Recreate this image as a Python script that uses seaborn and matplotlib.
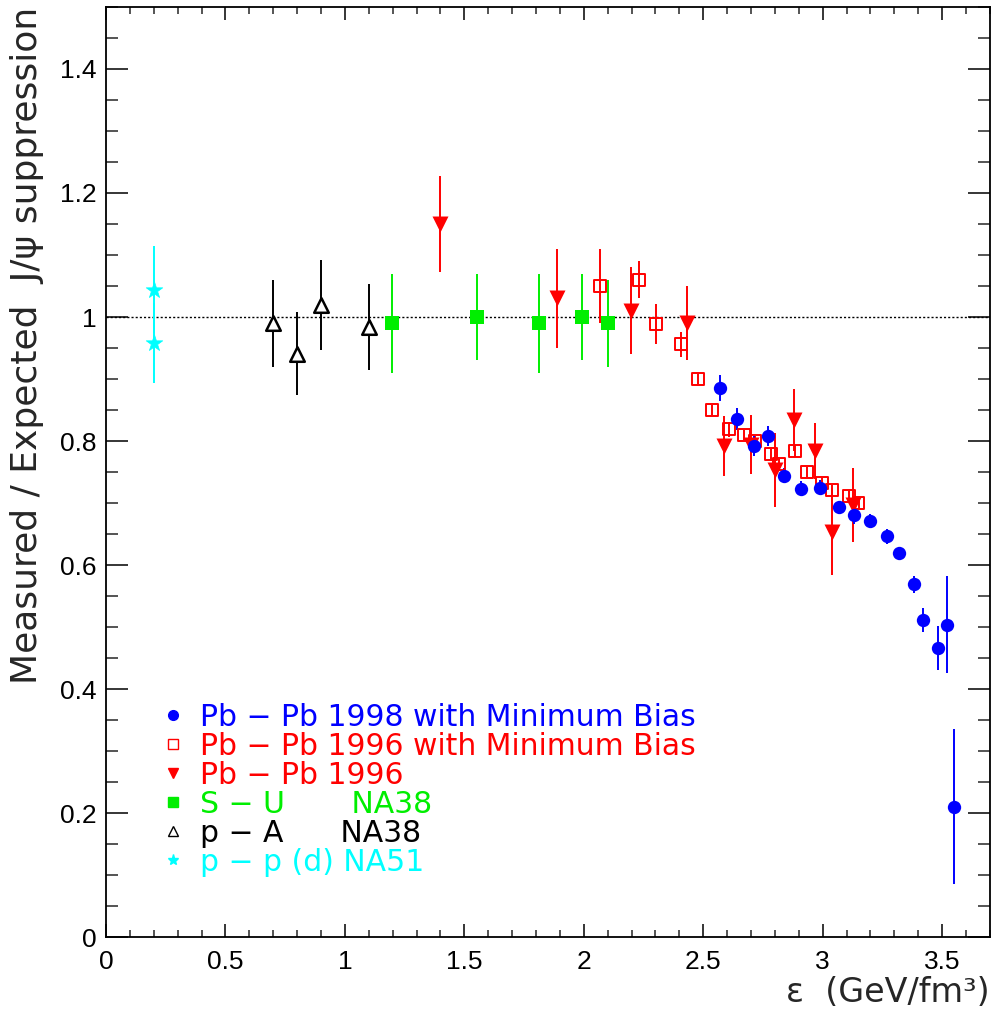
import matplotlib
matplotlib.use("Agg")
import matplotlib.pyplot as plt
import seaborn as sns
from matplotlib.lines import Line2D
from matplotlib.ticker import MultipleLocator, FormatStrFormatter

# ---------------- data ----------------
# Pb-Pb 1998 with Minimum Bias
pb98_x = [2.569, 2.641, 2.711, 2.771, 2.839, 2.910, 2.990, 3.069, 3.129, 3.198,
          3.271, 3.320, 3.382, 3.421, 3.481, 3.520, 3.551]
pb98_y = [0.885, 0.835, 0.792, 0.808, 0.744, 0.723, 0.725, 0.694, 0.681, 0.671,
          0.646, 0.619, 0.569, 0.511, 0.466, 0.504, 0.210]
pb98_e = [0.021, 0.018, 0.016, 0.016, 0.012, 0.012, 0.012, 0.010, 0.015, 0.012,
          0.012, 0.010, 0.014, 0.019, 0.036, 0.078, 0.125]

# Pb-Pb 1996 with Minimum Bias
pb96mb_x = [2.068, 2.231, 2.302, 2.406, 2.480, 2.538, 2.609, 2.672, 2.718, 2.783,
            2.818, 2.886, 2.934, 2.996, 3.038, 3.111, 3.150]
pb96mb_y = [1.050, 1.060, 0.989, 0.956, 0.900, 0.850, 0.819, 0.810, 0.800, 0.779,
            0.763, 0.784, 0.750, 0.732, 0.721, 0.711, 0.700]
pb96mb_e = [0.060, 0.030, 0.032, 0.020, 0.008, 0.008, 0.012, 0.008, 0.008, 0.008,
            0.008, 0.010, 0.008, 0.008, 0.008, 0.008, 0.008]

# Pb-Pb 1996
pb96_x = [1.399, 1.888, 2.197, 2.431, 2.589, 2.700, 2.799, 2.878, 2.969, 3.041, 3.126]
pb96_y = [1.150, 1.030, 1.010, 0.990, 0.792, 0.794, 0.753, 0.834, 0.784, 0.654, 0.697]
pb96_e = [0.078, 0.080, 0.070, 0.060, 0.048, 0.048, 0.060, 0.050, 0.045, 0.070, 0.060]

# S-U NA38
su_x = [1.199, 1.554, 1.813, 1.992, 2.101]
su_y = [0.990, 1.000, 0.990, 1.000, 0.990]
su_e = [0.080, 0.070, 0.080, 0.070, 0.070]

# p-A NA38
pa_x = [0.698, 0.798, 0.898, 1.103]
pa_y = [0.990, 0.941, 1.019, 0.984]
pa_e = [0.070, 0.067, 0.073, 0.069]

# p-p (d) NA51
pp_x = [0.200, 0.200]
pp_y = [1.044, 0.958]
pp_e = [0.070, 0.065]

x_ticks = [0, 0.5, 1, 1.5, 2, 2.5, 3, 3.5]
y_ticks = [0, 0.2, 0.4, 0.6, 0.8, 1.0, 1.2, 1.4]

labels = ["Pb \u2212 Pb 1998 with Minimum Bias",
          "Pb \u2212 Pb 1996 with Minimum Bias",
          "Pb \u2212 Pb 1996",
          "S \u2212 U       NA38",
          "p \u2212 A      NA38",
          "p \u2212 p (d) NA51"]

BLUE = "#0000ff"
RED = "#ff0000"
GREEN = "#00ee00"
BLACK = "#000000"
CYAN = "#00ffff"

# ---------------- style ----------------
sns.set_style("ticks")
plt.rcParams["font.family"] = ["Liberation Sans", "DejaVu Sans"]

fig = plt.figure(figsize=(9.94, 10.28), dpi=100)
ax = fig.add_axes([0.1066, 0.0885, 0.8893, 0.9047])

ax.set_xlim(0, 3.7)
ax.set_ylim(0, 1.5)

ax.axhline(1.0, color="black", lw=1.0, ls=(0, (1.5, 1.5)), zorder=1)

elw = 1.4


def errs(x, y, e, c):
    ax.errorbar(x, y, yerr=e, fmt="none", ecolor=c, elinewidth=elw, capsize=0, zorder=2)


# p-p stars
errs(pp_x, pp_y, pp_e, CYAN)
sns.scatterplot(x=pp_x, y=pp_y, marker="*", s=12.5 ** 2, color=CYAN, edgecolor=CYAN,
                linewidth=0.5, ax=ax, zorder=3)
# p-A open triangles
errs(pa_x, pa_y, pa_e, BLACK)
sns.scatterplot(x=pa_x, y=pa_y, marker="^", s=10.5 ** 2, color=BLACK, facecolors="white",
                edgecolor=BLACK, linewidth=1.8, ax=ax, zorder=3)
# S-U filled squares
errs(su_x, su_y, su_e, GREEN)
sns.scatterplot(x=su_x, y=su_y, marker="s", s=10.5 ** 2, color=GREEN, edgecolor=GREEN,
                linewidth=0, ax=ax, zorder=3)
# Pb-Pb 1996 filled down triangles
errs(pb96_x, pb96_y, pb96_e, RED)
sns.scatterplot(x=pb96_x, y=pb96_y, marker="v", s=11.5 ** 2, color=RED, edgecolor=RED,
                linewidth=0, ax=ax, zorder=3)
# Pb-Pb 1996 MB open squares
errs(pb96mb_x, pb96mb_y, pb96mb_e, RED)
sns.scatterplot(x=pb96mb_x, y=pb96mb_y, marker="s", s=8.6 ** 2, color=RED, facecolors="none",
                edgecolor=RED, linewidth=1.4, ax=ax, zorder=4)
# Pb-Pb 1998 filled circles
errs(pb98_x, pb98_y, pb98_e, BLUE)
sns.scatterplot(x=pb98_x, y=pb98_y, marker="o", s=9.6 ** 2, color=BLUE, edgecolor=BLUE,
                linewidth=0, ax=ax, zorder=5)

# ---------------- axes ----------------
ax.set_xticks(x_ticks)
ax.set_yticks(y_ticks)
ax.xaxis.set_major_formatter(FormatStrFormatter("%g"))
ax.yaxis.set_major_formatter(FormatStrFormatter("%g"))
ax.xaxis.set_minor_locator(MultipleLocator(0.1))
ax.yaxis.set_minor_locator(MultipleLocator(0.05))
ax.tick_params(axis="x", which="major", direction="in", length=9.5, width=1.1,
               top=True, bottom=True, labelsize=19, pad=9, colors="black")
ax.tick_params(axis="x", which="minor", direction="in", length=5, width=1.1,
               top=True, bottom=True)
ax.tick_params(axis="y", which="major", direction="in", length=16, width=1.1,
               left=True, right=True, labelsize=19, pad=7, colors="black")
ax.tick_params(axis="y", which="minor", direction="in", length=8.5, width=1.1,
               left=True, right=True)
for sp in ax.spines.values():
    sp.set_linewidth(1.3)
    sp.set_color("black")

ax.set_ylabel("Measured / Expected  J/\u03c8 suppression", fontsize=26,
              family=["DejaVu Sans"], loc="top", labelpad=11)
ax.set_xlabel("\u03b5  (GeV/fm\u00b3)", fontsize=24, family=["DejaVu Sans"],
              loc="right", labelpad=2)

# ---------------- legend ----------------
handles = [
    Line2D([], [], ls="", marker="o", ms=7, color=BLUE, mec=BLUE),
    Line2D([], [], ls="", marker="s", ms=6.5, color=RED, mfc="none", mec=RED, mew=1.0),
    Line2D([], [], ls="", marker="v", ms=7, color=RED, mec=RED),
    Line2D([], [], ls="", marker="s", ms=6.5, color=GREEN, mec=GREEN),
    Line2D([], [], ls="", marker="^", ms=6.5, color=BLACK, mfc="white", mec=BLACK, mew=1.0),
    Line2D([], [], ls="", marker="*", ms=8, color=CYAN, mec=CYAN),
]
leg = ax.legend(handles, labels, loc="upper left", bbox_to_anchor=(0.060, 0.252),
                frameon=False, prop={"family": "DejaVu Sans", "size": 21.5},
                handlelength=0.95, handletextpad=0.42, labelspacing=0.0,
                borderpad=0, borderaxespad=0)
for txt, c in zip(leg.get_texts(), [BLUE, RED, RED, GREEN, BLACK, CYAN]):
    txt.set_color(c)

fig.savefig("out.png", dpi=100)
